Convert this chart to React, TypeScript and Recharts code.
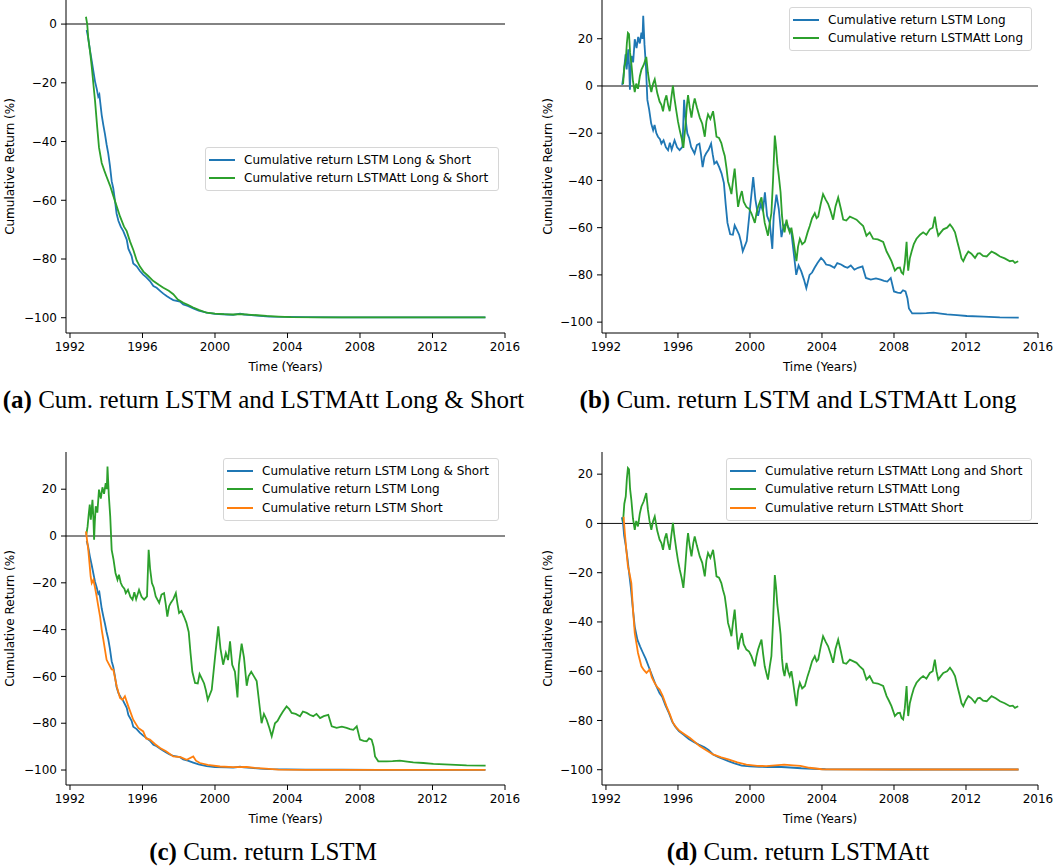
import React from 'react';
import { LineChart, Line, XAxis, YAxis, ReferenceLine, Legend } from 'recharts';

const BLUE = '#1f77b4';
const GREEN = '#2ca02c';
const ORANGE = '#ff7f0e';

const yearTicks = [1992, 1996, 2000, 2004, 2008, 2012, 2016];
const yTicksA = [-100, -80, -60, -40, -20, 0];
const yTicksB = [-100, -80, -60, -40, -20, 0, 20];

// Cumulative return LSTM Long & Short
const lstmLSYears = [1992.92, 1993.0, 1993.1, 1993.2, 1993.29, 1993.38, 1993.47, 1993.56, 1993.62, 1993.75, 1993.84, 1993.93, 1994.02, 1994.11, 1994.2, 1994.3, 1994.39, 1994.48, 1994.57, 1994.67, 1994.8, 1994.94, 1995.13, 1995.22, 1995.4, 1995.49, 1995.68, 1995.85, 1996.04, 1996.2, 1996.41, 1996.6, 1996.78, 1997.0, 1997.15, 1997.33, 1997.5, 1997.7, 1998.07, 1998.25, 1998.5, 1998.8, 1999.1, 1999.54, 2000.0, 2000.65, 2001.0, 2001.38, 2001.6, 2002.0, 2002.48, 2003.0, 2003.95, 2005.0, 2007.0, 2009.0, 2011.0, 2013.0, 2014.92];
const lstmLSValues = [-2, -4.5, -8.8, -12.5, -16, -19.5, -21.9, -24.7, -24, -31, -34.4, -37.5, -41, -44, -48, -53.5, -56, -60, -64.5, -67, -69, -70.5, -73.4, -76.5, -79, -81.5, -82.5, -84, -85.3, -86.2, -87.5, -89.2, -89.8, -91, -91.8, -92.6, -93.3, -94, -94.5, -95.5, -96, -96.8, -97.6, -98.3, -98.7, -98.9, -99, -98.6, -98.9, -99.1, -99.4, -99.6, -99.7, -99.8, -99.85, -99.9, -99.9, -99.9, -99.9];

// Cumulative return LSTMAtt Long & Short
const lstmAttLSYears = [1992.88, 1992.95, 1993.01, 1993.1, 1993.2, 1993.3, 1993.38, 1993.5, 1993.6, 1993.75, 1993.9, 1994.02, 1994.21, 1994.39, 1994.6, 1994.76, 1994.98, 1995.13, 1995.31, 1995.5, 1995.68, 1995.85, 1996.05, 1996.3, 1996.6, 1996.9, 1997.15, 1997.45, 1997.7, 1997.95, 1998.25, 1998.5, 1998.8, 1999.1, 1999.54, 2000.0, 2000.5, 2001.0, 2001.5, 2002.0, 2002.85, 2003.5, 2004.2, 2006.0, 2008.0, 2010.0, 2012.0, 2014.92];
const lstmAttLSValues = [2.5, 0, -5, -9, -14.5, -21, -26, -35, -42, -47.3, -50, -52, -55, -58.5, -62.5, -65.5, -69, -70.5, -74, -77, -80.5, -82.5, -84.3, -85.7, -87.5, -88.8, -89.8, -90.8, -92, -93.8, -94.9, -95.6, -96.5, -97.3, -98.3, -98.6, -98.8, -98.9, -98.8, -99, -99.4, -99.6, -99.8, -99.85, -99.9, -99.9, -99.9, -99.9];

// Cumulative return LSTM Short
const lstmShortYears = [1992.88, 1993.01, 1993.08, 1993.14, 1993.2, 1993.29, 1993.38, 1993.47, 1993.56, 1993.66, 1993.75, 1993.84, 1994.02, 1994.21, 1994.3, 1994.39, 1994.58, 1994.76, 1994.9, 1995.03, 1995.22, 1995.49, 1995.77, 1996.04, 1996.2, 1996.41, 1996.7, 1996.97, 1997.3, 1997.7, 1998.1, 1998.44, 1998.8, 1998.95, 1999.17, 1999.6, 2000.28, 2001.0, 2001.75, 2002.2, 2002.8, 2003.5, 2005.0, 2008.0, 2011.0, 2014.92];
const lstmShortValues = [2, -5.9, -12, -17.3, -20.1, -18.7, -22, -25.8, -30, -34.4, -40, -44.3, -52.9, -55.7, -57, -57.1, -64.3, -69.2, -70, -68.5, -72.8, -78.5, -82, -83.5, -86.5, -87, -89, -90.6, -92, -94.2, -94.5, -95.6, -94.2, -96, -97, -97.8, -98.5, -98.8, -98.7, -99.1, -99.4, -99.8, -99.9, -99.9, -99.9, -99.9];

// Cumulative return LSTMAtt Short
const lstmAttShortYears = [1992.98, 1993.05, 1993.13, 1993.22, 1993.3, 1993.41, 1993.5, 1993.6, 1993.7, 1993.78, 1993.97, 1994.1, 1994.25, 1994.43, 1994.55, 1994.7, 1994.85, 1994.98, 1995.15, 1995.36, 1995.55, 1995.72, 1995.9, 1996.1, 1996.4, 1996.65, 1996.9, 1997.2, 1997.55, 1997.95, 1998.4, 1998.8, 1999.3, 1999.8, 2000.4, 2000.9, 2001.4, 2001.9, 2002.4, 2002.8, 2003.3, 2004.0, 2006.0, 2009.0, 2012.0, 2014.92];
const lstmAttShortValues = [2.7, -4, -10.7, -17.4, -20, -24.2, -34.9, -44.5, -49, -52.6, -58, -59.5, -60.7, -59.3, -62.5, -64.7, -66.5, -67.4, -70, -74.2, -77.5, -80.9, -82.8, -84.3, -85.8, -87, -88.5, -90.4, -92, -93.8, -95, -95.8, -97, -97.9, -98.4, -98.5, -98.2, -97.9, -98.2, -98.4, -99.2, -99.8, -99.9, -99.9, -99.9, -99.9];

// Cumulative return LSTM Long
const lstmLongYears = [1992.9, 1992.97, 1993.03, 1993.09, 1993.15, 1993.24, 1993.29, 1993.33, 1993.37, 1993.42, 1993.51, 1993.6, 1993.7, 1993.79, 1993.88, 1993.97, 1994.03, 1994.07, 1994.14, 1994.22, 1994.3, 1994.4, 1994.51, 1994.62, 1994.7, 1994.8, 1994.89, 1995.0, 1995.08, 1995.2, 1995.33, 1995.45, 1995.55, 1995.65, 1995.81, 1995.95, 1996.09, 1996.25, 1996.34, 1996.42, 1996.52, 1996.62, 1996.73, 1996.92, 1997.05, 1997.19, 1997.28, 1997.37, 1997.47, 1997.56, 1997.7, 1997.84, 1997.93, 1998.02, 1998.15, 1998.29, 1998.42, 1998.55, 1998.65, 1998.75, 1998.9, 1999.05, 1999.15, 1999.3, 1999.4, 1999.5, 1999.6, 1999.82, 2000.0, 2000.18, 2000.3, 2000.45, 2000.6, 2000.72, 2000.83, 2000.95, 2001.1, 2001.24, 2001.32, 2001.47, 2001.6, 2001.75, 2001.85, 2002.0, 2002.15, 2002.3, 2002.45, 2002.57, 2002.7, 2002.85, 2003.0, 2003.13, 2003.31, 2003.45, 2003.59, 2003.75, 2003.95, 2004.1, 2004.23, 2004.45, 2004.69, 2004.85, 2005.06, 2005.25, 2005.42, 2005.6, 2005.8, 2006.0, 2006.25, 2006.44, 2006.71, 2007.0, 2007.26, 2007.45, 2007.63, 2007.82, 2008.0, 2008.2, 2008.37, 2008.5, 2008.64, 2008.75, 2008.83, 2009.01, 2009.47, 2009.8, 2010.2, 2010.6, 2010.94, 2011.5, 2012.05, 2012.97, 2013.88, 2014.93];
const lstmLongValues = [0.5, 4, 9, 13.4, 7, 15.5, 8, -1.6, 6, 12.7, 10, 19.8, 16, 20.8, 18, 22.6, 20, 29.7, 17.6, 8.4, -5.9, -10, -15.8, -18.7, -16.5, -20, -21.5, -22.5, -24.4, -23, -26, -27.2, -24, -27, -23, -26, -27.2, -25.8, -5.9, -14, -20.1, -22, -25.8, -28.6, -25, -24.4, -29, -34.4, -30, -28.6, -27, -24.4, -29, -32.9, -32, -34.4, -37, -41, -50, -58, -62.8, -63, -59, -61.4, -63, -66, -70, -65.7, -52, -38.6, -48, -55, -50, -53, -45, -55, -58, -69, -55, -46, -52, -64, -60, -58, -60, -62, -72, -80, -76, -78.5, -82, -85.6, -80, -79, -77, -75, -72.8, -74, -75.6, -76, -77, -75, -75.6, -76.5, -77, -76, -77.8, -77, -76.4, -81.3, -82, -81.5, -82, -82.5, -82.8, -81.3, -87, -87.5, -87.7, -86.5, -87, -90, -94.2, -96.3, -96.3, -96.2, -96, -96.4, -96.7, -97, -97.4, -97.7, -98, -98.1];

// Cumulative return LSTMAtt Long
const lstmAttLongYears = [1992.95, 1993.02, 1993.1, 1993.16, 1993.22, 1993.28, 1993.34, 1993.41, 1993.5, 1993.6, 1993.68, 1993.78, 1993.88, 1993.97, 1994.1, 1994.24, 1994.33, 1994.42, 1994.52, 1994.62, 1994.71, 1994.85, 1994.98, 1995.08, 1995.17, 1995.27, 1995.36, 1995.45, 1995.54, 1995.63, 1995.72, 1995.8, 1995.91, 1996.0, 1996.1, 1996.2, 1996.3, 1996.4, 1996.5, 1996.56, 1996.65, 1996.75, 1996.85, 1996.93, 1997.05, 1997.21, 1997.35, 1997.49, 1997.58, 1997.67, 1997.8, 1997.95, 1998.05, 1998.14, 1998.28, 1998.41, 1998.5, 1998.6, 1998.7, 1998.78, 1998.88, 1998.97, 1999.06, 1999.15, 1999.25, 1999.34, 1999.45, 1999.55, 1999.65, 1999.8, 1999.95, 2000.08, 2000.18, 2000.27, 2000.36, 2000.45, 2000.55, 2000.64, 2000.73, 2000.82, 2000.92, 2001.0, 2001.1, 2001.19, 2001.28, 2001.38, 2001.45, 2001.52, 2001.6, 2001.7, 2001.78, 2001.84, 2001.92, 2002.03, 2002.12, 2002.21, 2002.3, 2002.4, 2002.5, 2002.58, 2002.67, 2002.77, 2002.9, 2003.05, 2003.2, 2003.32, 2003.45, 2003.6, 2003.7, 2003.79, 2003.93, 2004.06, 2004.2, 2004.34, 2004.48, 2004.62, 2004.75, 2004.9, 2005.05, 2005.18, 2005.35, 2005.55, 2005.75, 2005.92, 2006.1, 2006.29, 2006.47, 2006.65, 2006.84, 2007.1, 2007.4, 2007.59, 2007.72, 2007.86, 2008.05, 2008.2, 2008.33, 2008.42, 2008.51, 2008.6, 2008.7, 2008.75, 2008.79, 2008.88, 2008.98, 2009.1, 2009.25, 2009.45, 2009.62, 2009.8, 2009.99, 2010.15, 2010.27, 2010.36, 2010.46, 2010.6, 2010.74, 2010.95, 2011.11, 2011.25, 2011.39, 2011.52, 2011.66, 2011.75, 2011.85, 2011.98, 2012.13, 2012.3, 2012.5, 2012.65, 2012.77, 2012.95, 2013.15, 2013.3, 2013.42, 2013.65, 2013.89, 2014.15, 2014.44, 2014.6, 2014.72, 2014.9];
const lstmAttLongValues = [0.8, 8, 11, 18, 22.5, 22, 14, 9.6, 2, -2.6, 1, -1.2, 4, 6.9, 9, 12.3, 5.6, 1, -2.6, 1, 2.8, -3, -6.6, -8, -10.7, -6, -4, -8, -10.7, -5, 0.2, -5, -10.7, -15, -18.8, -22, -26.2, -18, -8, -3.9, -9, -13.4, -8, -5.3, -9, -13.4, -16, -21.5, -15, -12, -14, -10.7, -16, -21.5, -22, -24.2, -27, -29.6, -35, -40.4, -43, -45.8, -40, -35, -44, -51.2, -47, -44.5, -49, -51.2, -52, -53.9, -56, -58, -54, -51.2, -49, -47.2, -53, -58, -61, -63.4, -58, -53.9, -40, -21, -26, -33, -38, -45, -55, -59.3, -62, -56.6, -60, -62, -60, -64.7, -70, -74.2, -68, -64.7, -67, -66, -62, -59.3, -56, -53.9, -56, -55.3, -50, -45.8, -48, -49.9, -53, -56.6, -51, -47.2, -52, -56.6, -57, -55.3, -56, -56.6, -58, -59.3, -63.4, -62, -64.7, -65, -66, -70.1, -72, -74.2, -78.2, -77, -76.9, -79, -79.6, -75, -66, -74, -78.2, -73, -70.1, -67, -64.7, -63, -62, -63, -60.7, -60, -55.3, -60, -63.4, -62, -60.7, -60, -58.6, -60, -62, -66, -70.1, -73, -74.2, -72, -70.1, -71, -72.8, -71, -70.8, -72, -72.2, -71, -70.1, -71, -72.2, -73, -74.2, -74, -74.9, -74.2];

type Row = { t: number; v: number };
const toRows = (ys: number[], vs: number[]): Row[] => ys.map((t, i) => ({ t, v: vs[i] }));

const lstmLS = toRows(lstmLSYears, lstmLSValues);
const lstmAttLS = toRows(lstmAttLSYears, lstmAttLSValues);
const lstmShort = toRows(lstmShortYears, lstmShortValues);
const lstmAttShort = toRows(lstmAttShortYears, lstmAttShortValues);
const lstmLong = toRows(lstmLongYears, lstmLongValues);
const lstmAttLong = toRows(lstmAttLongYears, lstmAttLongValues);

type Series = { name: string; color: string; rows: Row[] };

const fmtY = (v: number) => String(v).replace('-', '\u2212');

function LegendBox({ items, width }: { items: Series[]; width: number }) {
  return (
    <div
      style={{
        width,
        boxSizing: 'border-box',
        border: '1px solid #d6d6d6',
        borderRadius: 3,
        background: 'rgba(255,255,255,0.85)',
        padding: '2.5px 0 2.5px 0',
        fontFamily: 'DejaVu Sans',
        fontSize: 12,
        color: '#000',
      }}
    >
      {items.map((s) => (
        <div key={s.name} style={{ height: 18.5, display: 'flex', alignItems: 'center', whiteSpace: 'nowrap' }}>
          <div style={{ marginLeft: 3, width: 26, height: 2, background: s.color }} />
          <div style={{ marginLeft: 9 }}>{s.name}</div>
        </div>
      ))}
    </div>
  );
}

type PanelProps = {
  left: number;
  top: number;
  width: number;
  height: number;
  plotLeft: number;
  plotRight: number;
  plotTop: number;
  plotBottom: number;
  yDomain: [number, number];
  yTicks: number[];
  series: Series[];
  legendLeft: number;
  legendTop: number;
  legendWidth: number;
  zeroStroke: string;
  zeroWidth: number;
  yLabelX: number;
};

function Panel(p: PanelProps) {
  const xAxisH = 40;
  const margin = {
    top: p.plotTop - p.top,
    right: p.left + p.width - p.plotRight,
    bottom: p.top + p.height - p.plotBottom - xAxisH,
    left: 0,
  };
  const tickStyle = { fontSize: 12, fill: '#000', fontFamily: 'DejaVu Sans' };
  return (
    <div style={{ position: 'absolute', left: p.left, top: p.top, width: p.width, height: p.height }}>
      <LineChart width={p.width} height={p.height} margin={margin}>
        <XAxis
          type="number"
          dataKey="t"
          domain={[1991.78, 2016]}
          ticks={yearTicks}
          allowDataOverflow
          interval={0}
          height={xAxisH}
          tickSize={5}
          tickMargin={4}
          tick={tickStyle}
          stroke="#000"
          axisLine={{ stroke: '#000', strokeWidth: 1 }}
          tickLine={{ stroke: '#000', strokeWidth: 1 }}
          label={{ value: 'Time (Years)', position: 'insideBottom', offset: 2.5, fill: '#000', fontSize: 12, fontFamily: 'DejaVu Sans' }}
        />
        <YAxis
          type="number"
          domain={p.yDomain}
          ticks={p.yTicks}
          allowDataOverflow
          interval={0}
          width={p.plotLeft - p.left}
          tickSize={5}
          tickMargin={4}
          tick={tickStyle}
          tickFormatter={fmtY}
          stroke="#000"
          axisLine={{ stroke: '#000', strokeWidth: 1 }}
          tickLine={{ stroke: '#000', strokeWidth: 1 }}
          label={{
            value: 'Cumulative Return (%)',
            angle: -90,
            position: 'insideLeft',
            offset: p.yLabelX,
            fill: '#000',
            fontSize: 12,
            fontFamily: 'DejaVu Sans',
            style: { textAnchor: 'middle' },
          }}
        />
        <ReferenceLine y={0} stroke={p.zeroStroke} strokeWidth={p.zeroWidth} />
        {p.series.map((s) => (
          <Line
            key={s.name}
            data={s.rows}
            dataKey="v"
            name={s.name}
            type="linear"
            stroke={s.color}
            strokeWidth={1.8}
            dot={false}
            activeDot={false}
            isAnimationActive={false}
          />
        ))}
        <Legend
          layout="horizontal"
          verticalAlign="middle"
          align="center"
          wrapperStyle={{ left: p.legendLeft, top: p.legendTop, width: p.legendWidth }}
          content={() => <LegendBox items={p.series} width={p.legendWidth} />}
        />
      </LineChart>
    </div>
  );
}

const captionStyle: React.CSSProperties = {
  position: 'absolute',
  width: 600,
  textAlign: 'center',
  fontFamily: 'Liberation Serif',
  fontSize: 25,
  lineHeight: '25px',
  color: '#000',
  whiteSpace: 'nowrap',
};

export default function App() {
  return (
    <div style={{ position: 'absolute', left: 0, top: 0, width: 1064, height: 866, background: '#fff', fontFamily: 'DejaVu Sans' }}>
      <Panel
        left={0}
        top={0}
        width={530}
        height={380}
        plotLeft={66}
        plotRight={505}
        plotTop={0}
        plotBottom={333}
        yDomain={[-105.2, 8.2]}
        yTicks={yTicksA}
        series={[
          { name: 'Cumulative return LSTM Long & Short', color: BLUE, rows: lstmLS },
          { name: 'Cumulative return LSTMAtt Long & Short', color: GREEN, rows: lstmAttLS },
        ]}
        legendLeft={205}
        legendTop={147}
        legendWidth={294}
        zeroStroke="#5a5a5a"
        zeroWidth={1.5}
        yLabelX={10}
      />
      <Panel
        left={530}
        top={0}
        width={534}
        height={380}
        plotLeft={602}
        plotRight={1038}
        plotTop={0}
        plotBottom={333}
        yDomain={[-104.6, 36.4]}
        yTicks={yTicksB}
        series={[
          { name: 'Cumulative return LSTM Long', color: BLUE, rows: lstmLong },
          { name: 'Cumulative return LSTMAtt Long', color: GREEN, rows: lstmAttLong },
        ]}
        legendLeft={259}
        legendTop={7}
        legendWidth={243}
        zeroStroke="#5a5a5a"
        zeroWidth={1.5}
        yLabelX={18}
      />
      <Panel
        left={0}
        top={430}
        width={530}
        height={400}
        plotLeft={66}
        plotRight={505}
        plotTop={452}
        plotBottom={785}
        yDomain={[-106.4, 35.9]}
        yTicks={yTicksB}
        series={[
          { name: 'Cumulative return LSTM Long & Short', color: BLUE, rows: lstmLS },
          { name: 'Cumulative return LSTM Long', color: GREEN, rows: lstmLong },
          { name: 'Cumulative return LSTM Short', color: ORANGE, rows: lstmShort },
        ]}
        legendLeft={223}
        legendTop={28}
        legendWidth={276}
        zeroStroke="#111"
        zeroWidth={1}
        yLabelX={10}
      />
      <Panel
        left={530}
        top={430}
        width={534}
        height={400}
        plotLeft={602}
        plotRight={1038}
        plotTop={452}
        plotBottom={785}
        yDomain={[-106.2, 29.0]}
        yTicks={yTicksB}
        series={[
          { name: 'Cumulative return LSTMAtt Long and Short', color: BLUE, rows: lstmAttLS },
          { name: 'Cumulative return LSTMAtt Long', color: GREEN, rows: lstmAttLong },
          { name: 'Cumulative return LSTMAtt Short', color: ORANGE, rows: lstmAttShort },
        ]}
        legendLeft={196}
        legendTop={28}
        legendWidth={306}
        zeroStroke="#111"
        zeroWidth={1}
        yLabelX={18}
      />
      <div style={{ ...captionStyle, left: 263.5 - 300, top: 387 }}>
        <b>(a)</b> Cum. return LSTM and LSTMAtt Long &amp; Short
      </div>
      <div style={{ ...captionStyle, left: 798 - 300, top: 387 }}>
        <b>(b)</b> Cum. return LSTM and LSTMAtt Long
      </div>
      <div style={{ ...captionStyle, left: 263 - 300, top: 839 }}>
        <b>(c)</b> Cum. return LSTM
      </div>
      <div style={{ ...captionStyle, left: 798 - 300, top: 839 }}>
        <b>(d)</b> Cum. return LSTMAtt
      </div>
    </div>
  );
}
